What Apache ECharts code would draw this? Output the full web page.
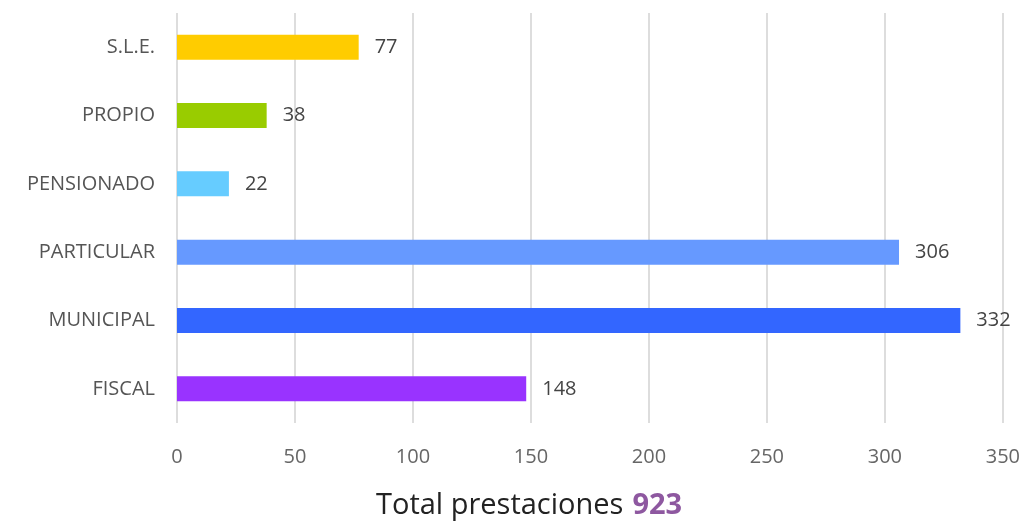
<!DOCTYPE html>
<html>
<head>
<meta charset="utf-8">
<script src="https://cdn.jsdelivr.net/npm/echarts@6/dist/echarts.min.js"></script>
<style>
  html, body { margin: 0; padding: 0; background: #fff; }
</style>
</head>
<body>
<div id="container" style="width: 1023px; height: 522px"></div>
<script>
// categories from bottom to top (category axis draws the first one at the bottom)
const categories = ['FISCAL', 'MUNICIPAL', 'PARTICULAR', 'PENSIONADO', 'PROPIO', 'S.L.E.']
const values = [148, 332, 306, 22, 38, 77]
const barColors = ['#9933FF', '#3366FF', '#6699FF', '#66CCFF', '#99CC00', '#FFCC00']
const totalLabel = 'Total prestaciones'
const totalValue = 923

var myChart = echarts.init(document.getElementById('container'))

const option = {
  animation: false,
  title: {
    text: '{a|' + totalLabel + '}{s| }{b|' + totalValue + '}',
    left: 371,
    top: 486,
    textStyle: {
      rich: {
        a: { fontFamily: 'Open Sans', fontSize: 29, color: '#222', fontWeight: 'normal' },
        s: { fontFamily: 'Open Sans', fontSize: 29, width: 9 },
        b: { fontFamily: 'Open Sans', fontSize: 29, color: '#8E58A0', fontWeight: 'bold' }
      }
    }
  },
  grid: {
    left: 177,
    right: 20,
    top: 13,
    bottom: 99,
    containLabel: false
  },
  xAxis: {
    type: 'value',
    min: 0,
    max: 350,
    interval: 50,
    axisLine: { show: false },
    axisTick: { show: false },
    axisLabel: {
      margin: 24,
      fontSize: 20,
      color: '#666',
      fontFamily: 'Open Sans'
    },
    splitLine: { lineStyle: { color: '#DDDDDD', width: 2 } }
  },
  yAxis: {
    type: 'category',
    data: categories,
    axisLine: { show: false },
    axisTick: { show: false },
    axisLabel: {
      margin: 22,
      fontSize: 20,
      color: '#555',
      fontFamily: 'Open Sans'
    }
  },
  series: [
    {
      type: 'bar',
      data: values.map((v, i) => ({ value: v, itemStyle: { color: barColors[i] } })),
      barWidth: 25,
      label: {
        show: true,
        position: 'right',
        distance: 16,
        fontSize: 20,
        color: '#444',
        fontFamily: 'Open Sans'
      }
    }
  ]
}

myChart.setOption(option)
</script>
</body>
</html>
